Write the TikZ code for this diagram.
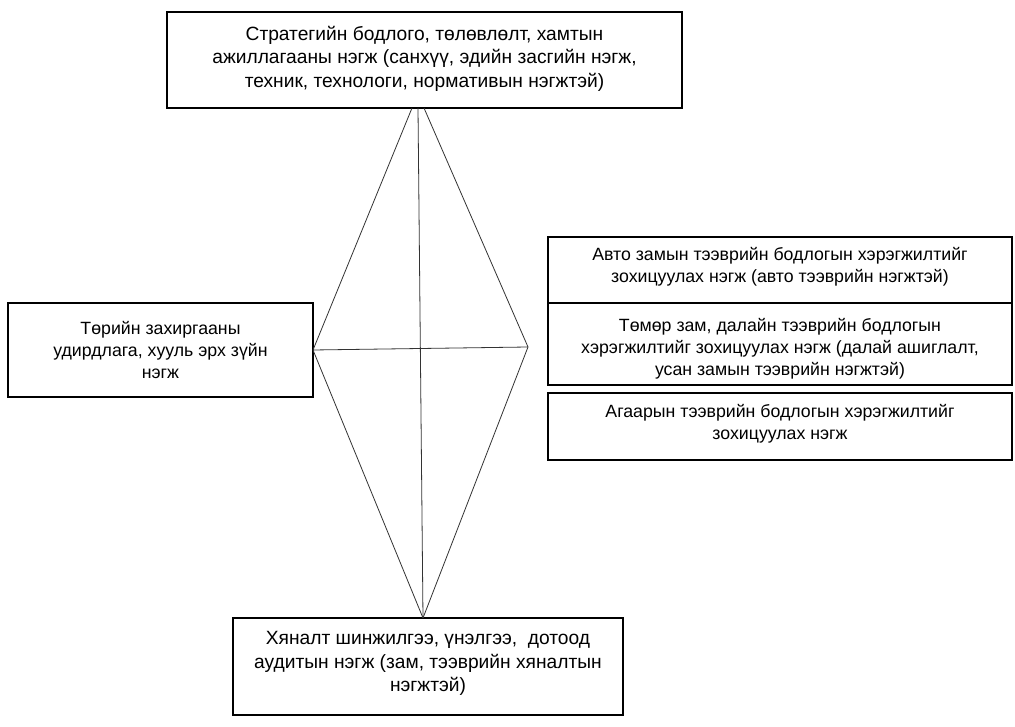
\documentclass[tikz,border=0pt]{standalone}
\usepackage{fontspec}
\setmainfont{Liberation Sans}
\begin{document}
\begin{tikzpicture}[x=0.75pt,y=-0.75pt,
  box/.style={draw=black,line width=1.1pt,rectangle,inner sep=0pt,fill=white},
  txt/.style={align=center,inner sep=0pt,font=\fontsize{13.3pt}{16.5pt}\selectfont},
  bigtxt/.style={align=center,inner sep=0pt,font=\fontsize{14.4pt}{17.6pt}\selectfont},
  edge/.style={draw=black!80,line width=0.6pt}]
\useasboundingbox[fill=white] (0,0) rectangle (1015,727);
% boxes
\node[box,minimum width=515*0.75pt,minimum height=96*0.75pt] (top) at (424.5,60) {};
\node[bigtxt] (toptxt) at (424.5,58.5) {Стратегийн бодлого, төлөвлөлт, хамтын\\ажиллагааны нэгж (санхүү, эдийн засгийн нэгж,\\техник, технологи, нормативын нэгжтэй)};
\node[box,minimum width=305*0.75pt,minimum height=94*0.75pt] (left) at (160.5,350) {};
\node[txt] (lefttxt) at (160.5,350) {Төрийн захиргааны\\удирдлага, хууль эрх зүйн\\нэгж};
\node[box,minimum width=464*0.75pt,minimum height=66*0.75pt] (r1) at (780,270) {};
\node[txt] (r1txt) at (780,266.5) {Авто замын тээврийн бодлогын хэрэгжилтийг\\зохицуулах нэгж (авто тээврийн нэгжтэй)};
\node[box,minimum width=464*0.75pt,minimum height=82*0.75pt] (r2) at (780,344) {};
\node[txt] (r2txt) at (780,348.5) {Төмөр зам, далайн тээврийн бодлогын\\хэрэгжилтийг зохицуулах нэгж (далай ашиглалт,\\усан замын тээврийн нэгжтэй)};
\node[box,minimum width=464*0.75pt,minimum height=67*0.75pt] (r3) at (780,426.5) {};
\node[txt] (r3txt) at (780,424) {Агаарын тээврийн бодлогын хэрэгжилтийг\\зохицуулах нэгж};
\node[box,minimum width=390*0.75pt,minimum height=97*0.75pt] (bot) at (428,666.5) {};
\node[bigtxt] (bottxt) at (428,663.5) {Хяналт шинжилгээ, үнэлгээ,~ дотоод\\аудитын нэгж (зам, тээврийн хяналтын\\нэгжтэй)};
% diamond points
\coordinate (tl) at (412,108);
\coordinate (tm) at (418,108);
\coordinate (tr) at (424,108);
\coordinate (L) at (313,350);
\coordinate (R) at (528,347);
\coordinate (B) at (423,618);
\draw[edge] (tl) -- (L);
\draw[edge] (tr) -- (R);
\draw[edge] (tm) -- (B);
\draw[edge] (L) -- (R);
\draw[edge] (L) -- (B);
\draw[edge] (R) -- (B);
\end{tikzpicture}
\end{document}
